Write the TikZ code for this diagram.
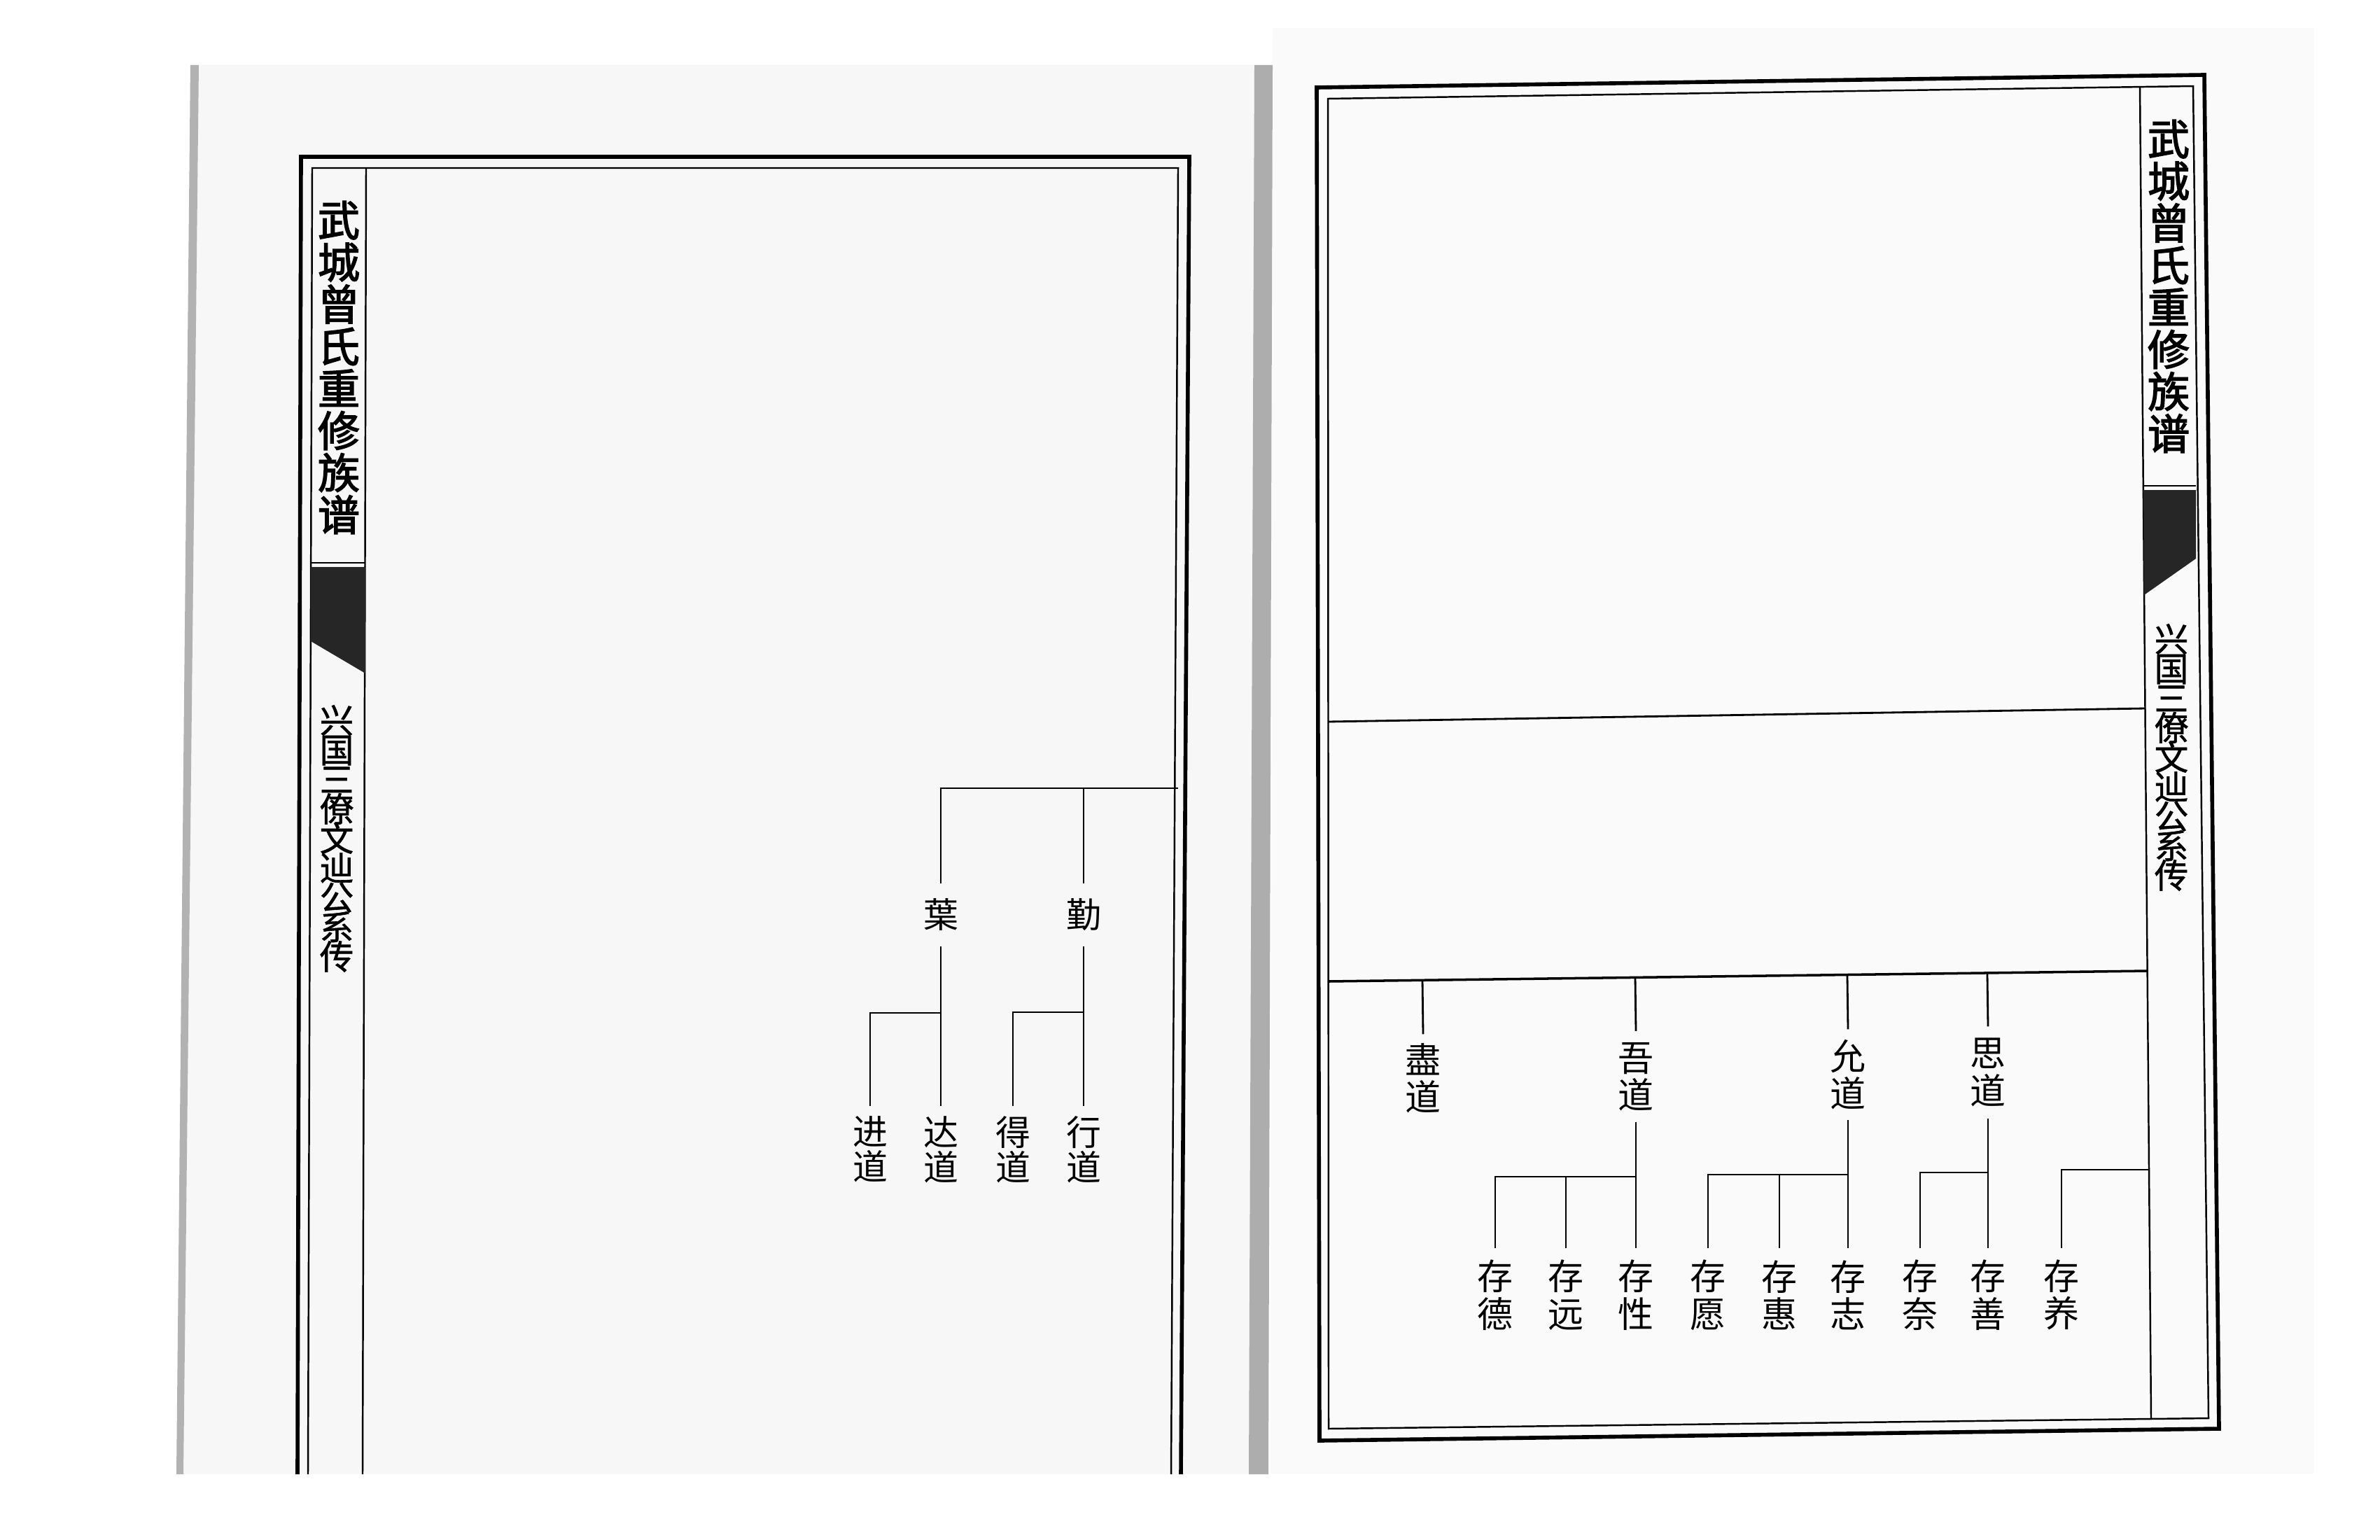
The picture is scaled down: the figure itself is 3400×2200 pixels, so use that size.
\documentclass[tikz,border=0pt]{standalone}
\usepackage{fontspec}
\newfontfamily\cjk{Noto Sans CJK SC}
\newfontfamily\cjkb[FakeBold=2.5]{Noto Sans CJK SC}
\newfontfamily\cjkm[FakeBold=1.2]{Noto Sans CJK SC}
\usetikzlibrary{calc}
\newcommand\tightlns{\lineskiplimit=-100pt\relax\lineskip=0pt\relax}
\begin{document}
\lineskiplimit=-100pt\relax
\lineskip=0pt\relax
\begin{tikzpicture}[x=0.01cm,y=-0.01cm,line join=miter,
  frameO/.style={line width=1.6pt},
  frameI/.style={line width=0.7pt},
  tline/.style={line width=0.8pt},
  gline/.style={line width=1.0pt},
  block/.style={fill=black!85},
  titleS/.style={font={\cjkb\fontsize{17.1}{17.1}\selectfont\tightlns},align=center,inner sep=0pt},
  subS/.style={font={\cjkm\fontsize{13.8}{12}\selectfont\tightlns},align=center,inner sep=0pt},
  lblL/.style={font={\cjk\fontsize{14.2}{14.2}\selectfont\tightlns},align=center,inner sep=0pt},
  lblR/.style={font={\cjk\fontsize{14.5}{15.2}\selectfont\tightlns},align=center,inner sep=0pt}]
\useasboundingbox (0,0) rectangle (3400,2200);
\fill[white] (0,0) rectangle (3400,2200);
% paper backgrounds
\fill[black!3] (272,93) -- (1795,93) -- (1790,2106) -- (258,2106) -- cycle;
\fill[black!2] (1818,40) -- (3305,40) -- (3305,2105) -- (1815,2105) -- cycle;
\fill[black!30] (272,93) -- (284,93) -- (262,2106) -- (252,2106) -- cycle;
\fill[black!32] (1792,93) -- (1818,93) -- (1812,2106) -- (1784,2106) -- cycle;

% ===== left page =====
\draw[frameO] (425,2106) -- (430,224) -- (1699,224) -- (1687,2106);
\draw[frameI] (440,2106) -- (446,240) -- (1683,240) -- (1673,2106);
\draw[frameI] (523,240) -- (518,2106);
\draw[line width=0.5pt] (444,804) -- (522,804);
\fill[block] (444,810) -- (522,810) -- (522,962) -- (444,916) -- cycle;
\node[titleS] (tL) at (484,525) {武\\城\\曾\\氏\\重\\修\\族\\谱};
\node[subS] (sL) at (481,1198) {兴\\国\\三\\僚\\文\\辿\\公\\系\\传};

\coordinate (Lend) at (1683,1126);
\coordinate (yeJ) at (1344,1447);
\coordinate (qinJ) at (1548,1446);
\node[lblL,minimum height=0.88cm] (ye) at (1344,1307) {葉};
\node[lblL,minimum height=0.88cm] (qin) at (1548,1307) {勤};
\node[lblL,minimum height=1.22cm] (jin) at (1243,1642) {进\\道};
\node[lblL,minimum height=1.22cm] (da) at (1344,1642) {达\\道};
\node[lblL,minimum height=1.22cm] (de) at (1447,1642) {得\\道};
\node[lblL,minimum height=1.22cm] (xing) at (1548,1642) {行\\道};
\draw[tline] (ye.north) |- (Lend);
\draw[tline] (qin.north) -- (qin.north |- Lend);
\draw[tline] (ye.south) -- (da.north);
\draw[tline] (jin.north) |- (yeJ);
\draw[tline] (qin.south) -- (xing.north);
\draw[tline] (de.north) |- (qinJ);

% ===== right page =====
\draw[frameO] (1881,125) -- (3149,107) -- (3170,2041) -- (1885,2058) -- cycle;
\draw[frameI] (1897,141) -- (3133,123) -- (3155,2026) -- (1898,2041) -- cycle;
\coordinate (colT) at (3057,124);
\coordinate (colB) at (3073,2028);
\draw[frameI] (colT) -- (colB);
\draw[line width=0.5pt] (3062,694) -- (3137,694);
\fill[block] (3062,700) -- (3137,700) -- (3137,798) -- (3063,850) -- cycle;
\node[titleS] (tR) at (3098,409) {武\\城\\曾\\氏\\重\\修\\族\\谱};
\node[subS] (sR) at (3102,1082) {兴\\国\\三\\僚\\文\\辿\\公\\系\\传};

\coordinate (uL) at (1897,1031);
\coordinate (uR) at (3065,1012);
\draw[tline] (uL) -- (uR);
\coordinate (gL) at (1898,1402);
\coordinate (gR) at (3068,1387);
\draw[gline] (gL) -- (gR);

\node[lblR,minimum height=1.24cm] (jn) at (2033,1540) {盡\\道};
\node[lblR,minimum height=1.29cm] (wu) at (2337,1538) {吾\\道};
\node[lblR,minimum height=1.28cm] (yun) at (2640,1535) {允\\道};
\node[lblR,minimum height=1.30cm] (si) at (2840,1532) {思\\道};
\foreach \n in {jn,wu,yun,si}
  \draw[tline] (\n.north) -- ($(gL)!(\n.north)!(gR)$);

\node[lblR,minimum height=1.32cm] (cde) at (2136,1850) {存\\德};
\node[lblR,minimum height=1.32cm] (cyuan) at (2237,1850) {存\\远};
\node[lblR,minimum height=1.32cm] (cxing) at (2337,1850) {存\\性};
\node[lblR,minimum height=1.32cm] (cyuan2) at (2440,1850) {存\\愿};
\node[lblR,minimum height=1.32cm] (chui) at (2542,1850) {存\\惠};
\node[lblR,minimum height=1.32cm] (czhi) at (2640,1850) {存\\志};
\node[lblR,minimum height=1.32cm] (cnai) at (2743,1850) {存\\奈};
\node[lblR,minimum height=1.32cm] (cshan) at (2840,1850) {存\\善};
\node[lblR,minimum height=1.32cm] (cyang) at (2945,1850) {存\\养};

\coordinate (wuJ) at (2337,1681);
\coordinate (yunJ) at (2640,1678);
\coordinate (siJ) at (2840,1675);
\coordinate (yangR) at (3071,1671);
\draw[tline] (wu.south) -- (cxing.north);
\draw[tline] (cde.north) |- (wuJ);
\draw[tline] (cyuan.north) -- (cyuan.north |- wuJ);
\draw[tline] (yun.south) -- (czhi.north);
\draw[tline] (cyuan2.north) |- (yunJ);
\draw[tline] (chui.north) -- (chui.north |- yunJ);
\draw[tline] (si.south) -- (cshan.north);
\draw[tline] (cnai.north) |- (siJ);
\draw[tline] (cyang.north) |- (yangR);
\end{tikzpicture}
\end{document}
